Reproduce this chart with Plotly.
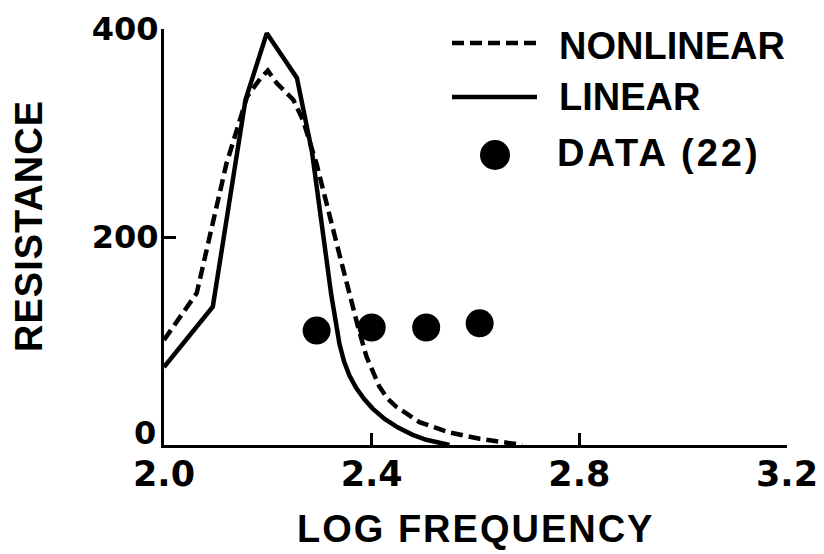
import plotly.graph_objects as go

# ---- data ----
series_names = ["NONLINEAR", "LINEAR", "DATA (22)"]

nonlinear_x = [2.0, 2.063, 2.12, 2.16, 2.185, 2.2, 2.217, 2.249, 2.268, 2.294,
               2.338, 2.355, 2.374, 2.39, 2.402, 2.415, 2.43, 2.447, 2.492, 2.55,
               2.608, 2.672, 2.69]
nonlinear_y = [101, 146, 270, 335, 352, 360, 348, 332, 312, 270,
               183, 149, 113, 85, 70, 56, 45, 37, 22, 12,
               6, 1, 0]

linear_x = [2.0, 2.094, 2.157, 2.198, 2.256, 2.285, 2.322, 2.33, 2.338, 2.347,
            2.357, 2.37, 2.386, 2.402, 2.425, 2.45, 2.478, 2.505, 2.53, 2.55]
linear_y = [75, 133, 332, 396, 353, 282, 145, 118, 97, 80,
            67, 55, 44, 35, 25, 17, 10, 5, 2, 0]

data_x = [2.294, 2.40, 2.505, 2.608]
data_y = [110, 113, 113, 117]

x_ticks = [2.0, 2.4, 2.8, 3.2]
x_ticktext = ["2.0", "2.4", "2.8", "3.2"]
y_ticks = [0, 200, 400]
y_ticktext = ["", "200", "400"]
y_zero_label = "0"

TEXT_FONT = dict(family="Liberation Sans", weight="bold", color="black")
NUM_FONT = dict(family="DejaVu Sans", weight="bold", color="black")

fig = go.Figure()
fig.add_trace(go.Scatter(x=nonlinear_x, y=nonlinear_y, mode="lines", name=series_names[0],
                         line=dict(color="black", width=4.5, dash="12px,6px")))
fig.add_trace(go.Scatter(x=linear_x, y=linear_y, mode="lines", name=series_names[1],
                         line=dict(color="black", width=4.5)))
fig.add_trace(go.Scatter(x=data_x, y=data_y, mode="markers", name=series_names[2],
                         marker=dict(color="black", size=28)))

# The page body has an 8px margin, so the figure sits at (8, 8) in the window.
OFF = 8
W, H = 824 - OFF, 554 - OFF
# plot area in window pixels: x 164..787, y 29..445
PX0, PX1, PY0, PY1 = 164, 787, 29, 445
L, R, T, B = PX0 - OFF, W - (PX1 - OFF), PY0 - OFF, H - (PY1 - OFF)
PW, PH = PX1 - PX0, PY1 - PY0

def px(xp):
    return (xp - PX0) / PW

def py(yp):
    return (PY1 - yp) / PH

shapes = [
    dict(type="line", xref="paper", yref="paper", x0=px(452), x1=px(537), y0=py(43), y1=py(43),
         line=dict(color="black", width=4.5, dash="12px,6px")),
    dict(type="line", xref="paper", yref="paper", x0=px(452), x1=px(537), y0=py(97), y1=py(97),
         line=dict(color="black", width=4.5)),
    dict(type="circle", xref="paper", yref="paper", xsizemode="pixel", ysizemode="pixel",
         xanchor=px(495), yanchor=py(155), x0=-15, x1=15, y0=-15, y1=15,
         fillcolor="black", line=dict(color="black", width=0)),
]

annotations = [
    dict(text=series_names[0], xref="paper", yref="paper", x=px(557), y=py(46),
         xanchor="left", yanchor="middle", showarrow=False, font=dict(size=38, **TEXT_FONT)),
    dict(text=series_names[1], xref="paper", yref="paper", x=px(557), y=py(97),
         xanchor="left", yanchor="middle", showarrow=False, font=dict(size=38, **TEXT_FONT)),
    dict(text='<span style="letter-spacing:3px">' + series_names[2] + '</span>',
         xref="paper", yref="paper", x=px(555), y=py(153),
         xanchor="left", yanchor="middle", showarrow=False, font=dict(size=38, **TEXT_FONT)),
    dict(text='<span style="letter-spacing:2px">LOG FREQUENCY</span>', xref="paper", yref="paper",
         x=0.5, y=py(529), xanchor="center", yanchor="middle", showarrow=False,
         font=dict(size=38, **TEXT_FONT)),
    dict(text='<span style="letter-spacing:1px">RESISTANCE</span>', xref="paper", yref="paper",
         x=px(29), y=py(226), xanchor="center", yanchor="middle", textangle=-90, showarrow=False,
         font=dict(size=38, **TEXT_FONT)),
    dict(text=y_zero_label, xref="paper", yref="paper", x=px(158), y=py(433),
         xanchor="right", yanchor="middle", showarrow=False, font=dict(size=32, **NUM_FONT)),
]

fig.update_layout(
    width=W, height=H, autosize=False,
    margin=dict(l=L, r=R, t=T, b=B, pad=0, autoexpand=False),
    paper_bgcolor="white", plot_bgcolor="white",
    showlegend=False,
    font=dict(family="Liberation Sans", color="black"),
    shapes=shapes,
    annotations=annotations,
    xaxis=dict(range=[2.0, 3.2], tickvals=x_ticks, ticktext=x_ticktext, automargin=False,
               ticks="inside", ticklen=12, tickwidth=3, tickcolor="black",
               showline=True, linewidth=3, linecolor="black",
               showgrid=False, zeroline=False, ticklabelstandoff=-4,
               tickfont=dict(size=35, **NUM_FONT)),
    yaxis=dict(range=[0, 400], tickvals=y_ticks, ticktext=y_ticktext, automargin=False,
               ticks="inside", ticklen=12, tickwidth=3, tickcolor="black",
               showline=True, linewidth=3, linecolor="black",
               showgrid=False, zeroline=False, ticklabelstandoff=-4,
               tickfont=dict(size=32, **NUM_FONT)),
)

fig.write_html("out.html")
